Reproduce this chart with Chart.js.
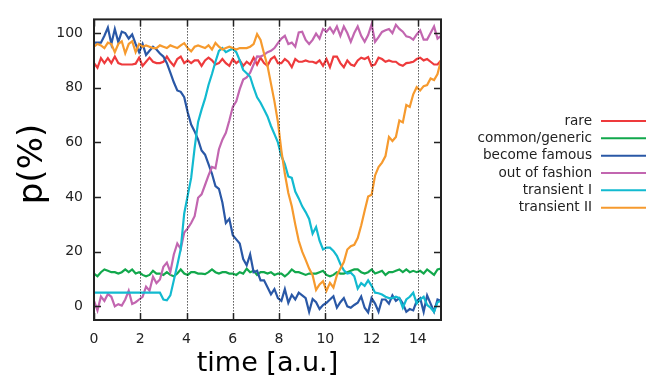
<!DOCTYPE html>
<html>
<head>
<meta charset="utf-8">
<script src="https://cdn.jsdelivr.net/npm/chart.js@4.4.1/dist/chart.umd.min.js"></script>
<style>
  html, body { margin: 0; padding: 0; background: #fff; }
  #wrap { width: 646px; height: 378px; }
</style>
</head>
<body>
<div id="wrap"><canvas id="trend-chart" width="646" height="378"></canvas></div>
<script>
// time axis (a.u.)
const times = [
  0, 0.15, 0.3, 0.45, 0.6, 0.75, 0.9, 1.05, 1.2, 1.35,
  1.5, 1.65, 1.8, 1.95, 2.1, 2.25, 2.4, 2.55, 2.7, 2.85,
  3, 3.15, 3.3, 3.45, 3.6, 3.75, 3.9, 4.05, 4.2, 4.35,
  4.5, 4.65, 4.8, 4.95, 5.1, 5.25, 5.4, 5.55, 5.7, 5.85,
  6, 6.15, 6.3, 6.45, 6.6, 6.75, 6.9, 7.05, 7.2, 7.35,
  7.5, 7.65, 7.8, 7.95, 8.1, 8.25, 8.4, 8.55, 8.7, 8.85,
  9, 9.15, 9.3, 9.45, 9.6, 9.75, 9.9, 10.05, 10.2, 10.35,
  10.5, 10.65, 10.8, 10.95, 11.1, 11.25, 11.4, 11.55, 11.7, 11.85,
  12, 12.15, 12.3, 12.45, 12.6, 12.75, 12.9, 13.05, 13.2, 13.35,
  13.5, 13.65, 13.8, 13.95, 14.1, 14.25, 14.4, 14.55, 14.7, 14.85,
  15
];

const rare = [
  89, 87.3, 90.8, 89, 90.8, 89, 91.4, 89, 88.5, 88.5,
  88.5, 88.5, 88.8, 91, 88, 89.5, 91, 89.5, 89, 89,
  89.5, 91.4, 89.5, 88, 90.5, 91.4, 89, 90, 89, 90,
  90, 88, 90, 91, 90, 88.5, 89, 90.5, 89, 88,
  90.5, 89, 90, 88, 89.5, 88.5, 91, 88.5, 91, 89,
  88, 90.5, 91.4, 89, 89, 90.5, 89.5, 87.5, 90.5, 89.5,
  89.5, 90, 89.5, 89.5, 89, 90, 88, 90.5, 87.5, 91.4,
  91.4, 89, 87.5, 90, 88.5, 88, 90, 91, 90.5, 91.2,
  88, 88.5, 91, 90.5, 89.5, 90, 89.5, 89.5, 88.5, 88,
  89, 89.2, 89.5, 90.5, 91, 90, 90.5, 89.5, 88.5, 88.5,
  90
];

const commonGeneric = [
  12, 11, 12.5, 13.5, 13, 12.5, 12.5, 12, 12.5, 13.5,
  12.5, 13.5, 12, 12.5, 11.5, 11, 11.5, 13, 12, 12,
  11.5, 12.5, 11.5, 11, 12, 13.5, 12, 11.5, 12.5, 12.5,
  12, 12, 11.8, 12.5, 13.5, 12.5, 12, 12.5, 12.5, 12,
  12, 11.5, 12.5, 12, 13.8, 12.5, 13, 11.5, 12.5, 12.5,
  12, 12.5, 11.5, 12, 12, 11, 12, 13.5, 12.5, 12.5,
  12, 11.5, 12, 12, 12, 12.5, 13, 11.5, 11, 11.5,
  12.5, 12, 12, 12.5, 13, 13.5, 13.5, 12.5, 12, 12.5,
  13.5, 12, 12.5, 13, 11.5, 12.5, 12.5, 13, 13.5, 12.5,
  13.5, 12.5, 13, 12.5, 13, 12, 13.5, 12.5, 11.5, 13.5,
  13.8
];

const becomeFamous = [
  96.5, 96.5, 96.5, 99, 102, 96, 101.5, 96.7, 100.5, 100,
  98, 99.5, 96, 93, 96, 92, 93.5, 95, 94, 92.5,
  91.4, 89, 85.5, 82, 79, 78.5, 76.5, 71, 66.5, 64,
  61, 57, 55.5, 52, 48.5, 44, 43, 38, 30.5, 32,
  26, 24.5, 23, 17.3, 15, 19, 12.5, 13, 9.5, 9.5,
  7, 4.4, 6.3, 3, 2, 6.3, 1.3, 4.2, 2.5, 5,
  4, 3, -2, 2.7, 1.5, -1, 0.5, 1.3, 2.5, 3.7,
  -0.5, 1.5, 3, 0, -0.5, 0.5, 1.3, 3.6, -0.5, -2.2,
  3, 1, -2, 2.5, 2.5, 1, 4, 2, 3, 1,
  -2, -1, -1.5, 2, 3, -2, 4, 1, -2, 2.5,
  2
];

const outOfFashion = [
  2, -1.5, 3.6, 2, 4.5, 3.5, 0, 0.8, 0.3, 2.5,
  5.7, 0.9, 1.5, 2.5, 3.5, 7.2, 5.7, 10.8, 8.5, 9.8,
  14.5, 16, 12.6, 19, 23, 21, 27, 28.5, 30.5, 33,
  39.7, 41, 44.4, 47.9, 51, 50.5, 57.5, 61, 63.5, 68,
  73, 75, 79.5, 83, 83.8, 85.5, 88.5, 91.5, 91.4, 92,
  93, 93.5, 94.5, 96.3, 98, 99, 96, 96.5, 95, 100.2,
  100.5, 97.5, 96, 97.5, 99.8, 98, 101.5, 100.5, 102, 100,
  102.4, 99, 102.4, 100, 96.8, 100, 102.4, 99, 96.8, 99.3,
  103.2, 96.8, 98.5, 100.4, 101, 101.5, 100, 103, 101.5, 100.5,
  98.8, 98.5, 97.6, 99.5, 101, 97.6, 97.6, 100, 102.4, 98,
  99
];

const transientI = [
  5, 5, 5, 5, 5, 5, 5, 5, 5, 5,
  5, 5, 5, 5, 5, 5, 5, 5, 5, 5,
  2.5, 2.2, 4, 9.5, 15, 21, 34, 40.5, 47, 58,
  67.5, 72, 76, 81, 85, 89.5, 93.5, 94.5, 93, 93.7,
  94.3, 93, 90, 86.5, 85.3, 84, 80, 76.5, 74.5, 72,
  69.5, 66, 63, 60, 55, 52, 47.5, 47, 42, 39.5,
  36.6, 34.5, 32, 26.6, 29, 24, 20.8, 21.5, 21.5, 20.3,
  18.5, 15.5, 13.2, 12, 12.3, 11, 6.5, 8.5, 7.5, 9.5,
  7.5, 5, 4.8, 4.3, 3.5, 3, 3, 3.5, 3, -0.5,
  2.5, 3.5, 5, 1, 2.5, 3.5, 0.5, -0.5, -2, 1.5,
  2
];

const transientII = [
  95, 96, 95.5, 94.5, 96.5, 96, 93, 96, 97, 92.6,
  96, 97, 93, 96, 95, 95.5, 95, 94.5, 94.5, 95.5,
  95, 94.5, 95.5, 95, 94.5, 95.5, 96.3, 94.5, 93.3, 95,
  95.5, 95, 94.5, 95.5, 94, 96.4, 95, 94, 94.5, 95,
  94.5, 94, 94.5, 94.5, 94.5, 95, 96, 99.6, 97.5, 92.5,
  88, 81.5, 75, 67.5, 57, 48.5, 41.5, 36.6, 30, 24,
  20, 17, 13.8, 11.4, 6, 8, 9.2, 5.7, 8.6, 6.9,
  11.4, 13.8, 16.2, 20.8, 22, 22.5, 25, 29.6, 35, 40.2,
  40.8, 47.9, 51, 52.6, 55, 62, 60.5, 62, 68, 67.3,
  73.7, 73, 77.6, 80.2, 79, 80.6, 81, 83.4, 82.8, 85,
  90
];

const seriesNames = ['rare', 'common/generic', 'become famous', 'out of fashion', 'transient I', 'transient II'];
const seriesValues = [rare, commonGeneric, becomeFamous, outOfFashion, transientI, transientII];
const seriesColors = ['#ee3a3c', '#12a84c', '#2a58a6', '#c266b0', '#12bad0', '#f69a2e'];

const xTicks = [0, 2, 4, 6, 8, 10, 12, 14];
const yTicks = [0, 20, 40, 60, 80, 100];

const FONT = "'DejaVu Sans', sans-serif";
const INK = '#222222';

// gnuplot-style frame: inward ticks on all sides, dotted verticals, titles, key on the right
const framePlugin = {
  id: 'frame',
  afterDatasetsDraw(chart) {
    const { ctx, chartArea: a, scales: { x, y } } = chart;
    ctx.save();
    ctx.strokeStyle = '#000';
    ctx.lineWidth = 1;
    ctx.setLineDash([1, 2]);
    xTicks.forEach(v => {
      if (v === 0) return;
      const px = Math.round(x.getPixelForValue(v)) + 0.5;
      ctx.beginPath();
      ctx.moveTo(px, a.top);
      ctx.lineTo(px, a.bottom);
      ctx.stroke();
    });
    ctx.setLineDash([]);
    ctx.strokeStyle = INK;
    ctx.lineWidth = 1.5;
    const tl = 7;
    xTicks.forEach(v => {
      const px = Math.round(x.getPixelForValue(v)) + 0.5;
      ctx.beginPath();
      ctx.moveTo(px, a.bottom); ctx.lineTo(px, a.bottom - tl);
      ctx.moveTo(px, a.top); ctx.lineTo(px, a.top + tl);
      ctx.stroke();
    });
    yTicks.forEach(v => {
      const py = Math.round(y.getPixelForValue(v)) + 0.5;
      ctx.beginPath();
      ctx.moveTo(a.left, py); ctx.lineTo(a.left + tl, py);
      ctx.moveTo(a.right, py); ctx.lineTo(a.right - tl, py);
      ctx.stroke();
    });
    ctx.lineWidth = 2;
    ctx.strokeRect(a.left, a.top, a.right - a.left, a.bottom - a.top);

    // axis titles
    ctx.fillStyle = '#000';
    ctx.textAlign = 'center';
    ctx.font = '27px ' + FONT;
    ctx.textBaseline = 'alphabetic';
    ctx.fillText('time [a.u.]', (a.left + a.right) / 2, 371);
    ctx.save();
    ctx.translate(33, 164);
    ctx.rotate(-Math.PI / 2);
    ctx.font = '34px ' + FONT;
    ctx.textBaseline = 'middle';
    ctx.fillText('p(%)', 0, 0);
    ctx.restore();

    // key
    ctx.font = '13.6px ' + FONT;
    ctx.textAlign = 'right';
    ctx.textBaseline = 'middle';
    chart.data.datasets.forEach((ds, i) => {
      const ry = 121 + i * 17.33;
      ctx.fillStyle = INK;
      ctx.fillText(ds.label, 592, ry);
      ctx.strokeStyle = ds.borderColor;
      ctx.lineWidth = 2;
      ctx.beginPath();
      ctx.moveTo(601, ry);
      ctx.lineTo(646, ry);
      ctx.stroke();
    });
    ctx.restore();
  }
};

const datasets = seriesNames.map((name, i) => ({
  label: name,
  data: times.map((t, k) => ({ x: t, y: seriesValues[i][k] })),
  borderColor: seriesColors[i],
  backgroundColor: seriesColors[i],
  borderWidth: 2.2,
  pointRadius: 0,
  tension: 0,
  fill: false,
  order: seriesNames.length - i
}));

const trendChart = new Chart(document.getElementById('trend-chart').getContext('2d'), {
  type: 'line',
  data: { datasets: datasets },
  options: {
    responsive: false,
    animation: false,
    layout: { padding: { top: 7, right: 205, left: 0, bottom: 0 } },
    plugins: {
      legend: { display: false },
      tooltip: { enabled: false }
    },
    scales: {
      x: {
        type: 'linear',
        min: 0,
        max: 15,
        afterFit(scale) { scale.height = 58; },
        grid: { display: false, drawTicks: false },
        border: { display: false },
        ticks: {
          stepSize: 2,
          includeBounds: false,
          padding: 11,
          maxRotation: 0,
          color: INK,
          font: { family: FONT, size: 14 }
        }
      },
      y: {
        min: -5,
        max: 105,
        afterFit(scale) { scale.width = 94; },
        grid: { display: false, drawTicks: false },
        border: { display: false },
        ticks: {
          stepSize: 20,
          includeBounds: false,
          padding: 11,
          color: INK,
          font: { family: FONT, size: 14 }
        }
      }
    }
  },
  plugins: [framePlugin]
});
</script>
</body>
</html>
